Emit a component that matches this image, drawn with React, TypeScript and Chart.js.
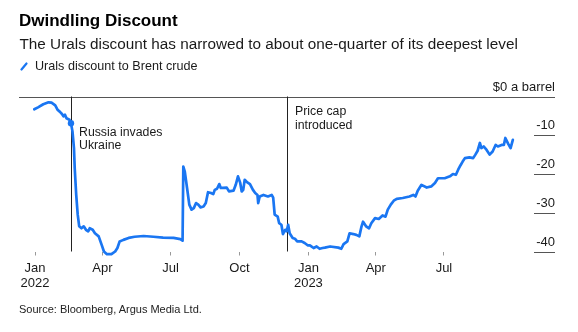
import { useEffect, useRef } from 'react';
import { Chart, registerables } from 'chart.js';

Chart.register(...registerables);

// ---- Data ----
const DATES = [
  '2021-12-31', '2022-01-05', '2022-01-12', '2022-01-19', '2022-01-23', '2022-01-28', '2022-01-31',
  '2022-02-03', '2022-02-06', '2022-02-08', '2022-02-10', '2022-02-12', '2022-02-16', '2022-02-18',
  '2022-02-20', '2022-02-22', '2022-02-23', '2022-02-25', '2022-02-27', '2022-03-01', '2022-03-04',
  '2022-03-07', '2022-03-10', '2022-03-13', '2022-03-15', '2022-03-19', '2022-03-22', '2022-03-27',
  '2022-03-31', '2022-04-03', '2022-04-07', '2022-04-13', '2022-04-18', '2022-04-21', '2022-04-24',
  '2022-04-29', '2022-05-06', '2022-05-14', '2022-05-26', '2022-06-08', '2022-06-21', '2022-07-05',
  '2022-07-14', '2022-07-17', '2022-07-18', '2022-07-20', '2022-07-23', '2022-07-26', '2022-07-29',
  '2022-08-01', '2022-08-04', '2022-08-07', '2022-08-10', '2022-08-14', '2022-08-17', '2022-08-20',
  '2022-08-24', '2022-08-27', '2022-08-29', '2022-09-01', '2022-09-04', '2022-09-06', '2022-09-09',
  '2022-09-14', '2022-09-17', '2022-09-23', '2022-09-26', '2022-09-29', '2022-10-02', '2022-10-04',
  '2022-10-06', '2022-10-08', '2022-10-11', '2022-10-15', '2022-10-19', '2022-10-22', '2022-10-25',
  '2022-10-26', '2022-10-28', '2022-11-02', '2022-11-08', '2022-11-13', '2022-11-15', '2022-11-17',
  '2022-11-21', '2022-11-23', '2022-11-26', '2022-11-28', '2022-12-01', '2022-12-03', '2022-12-05',
  '2022-12-07', '2022-12-11', '2022-12-14', '2022-12-17', '2022-12-23', '2022-12-27', '2022-12-31',
  '2023-01-03', '2023-01-08', '2023-01-12', '2023-01-16', '2023-01-20', '2023-01-23', '2023-01-30',
  '2023-02-10', '2023-02-14', '2023-02-17', '2023-02-22', '2023-02-25', '2023-03-02', '2023-03-06',
  '2023-03-10', '2023-03-13', '2023-03-15', '2023-03-19', '2023-03-23', '2023-03-26', '2023-03-31',
  '2023-04-05', '2023-04-10', '2023-04-14', '2023-04-17', '2023-04-21', '2023-04-25', '2023-04-29',
  '2023-05-07', '2023-05-16', '2023-05-21', '2023-05-24', '2023-05-27', '2023-06-01', '2023-06-08',
  '2023-06-14', '2023-06-19', '2023-06-23', '2023-07-02', '2023-07-09', '2023-07-13', '2023-07-17',
  '2023-07-20', '2023-07-23', '2023-07-26', '2023-07-29', '2023-08-04', '2023-08-09', '2023-08-12',
  '2023-08-15', '2023-08-18', '2023-08-20', '2023-08-23', '2023-08-27', '2023-08-31', '2023-09-04',
  '2023-09-08', '2023-09-11', '2023-09-16', '2023-09-19', '2023-09-21', '2023-09-25', '2023-09-28',
  '2023-10-01',
];

const DISCOUNT = [
  -3.3, -2.8, -2.0, -1.5, -1.6, -2.3, -3.4,
  -3.9, -4.5, -5.1, -4.7, -5.6, -6.0, -6.9,
  -9.0, -13.3, -18.5, -25.4, -30.5, -33.5, -34.0,
  -33.5, -34.4, -34.8, -34.0, -34.4, -35.3, -36.1,
  -38.3, -40.0, -40.7, -40.7, -40.0, -39.1, -37.4,
  -37.0, -36.5, -36.2, -36.0, -36.2, -36.4, -36.5,
  -36.8, -37.2, -18.1, -19.4, -23.6, -27.9, -29.2,
  -28.8, -27.5, -27.9, -28.6, -28.4, -27.5, -24.7,
  -24.9, -25.2, -24.1, -23.8, -22.6, -23.6, -23.6,
  -23.5, -24.5, -24.3, -22.8, -20.6, -22.3, -24.5,
  -24.1, -21.5, -22.1, -22.6, -24.1, -24.9, -25.4,
  -27.5, -25.8, -25.4, -25.8, -25.4, -26.1, -30.5,
  -31.0, -32.7, -33.1, -35.5, -34.4, -34.8, -33.1,
  -35.3, -36.5, -36.7, -37.4, -37.4, -37.8, -38.4,
  -38.4, -39.1, -38.7, -39.3, -39.1, -39.0, -38.7,
  -39.0, -39.3, -38.1, -37.4, -35.3, -35.5, -35.7,
  -36.1, -33.5, -32.3, -33.5, -34.0, -32.7, -31.4,
  -31.6, -30.7, -31.0, -29.2, -27.9, -26.9, -26.4,
  -26.2, -25.8, -25.4, -25.8, -24.3, -22.8, -23.5,
  -23.2, -22.3, -21.1, -21.1, -20.6, -20.0, -20.2,
  -18.9, -17.8, -16.8, -15.9, -15.7, -15.9, -15.0,
  -14.0, -12.0, -13.3, -12.9, -13.8, -15.0, -14.2,
  -12.5, -12.9, -12.5, -12.5, -10.7, -12.3, -13.3,
  -11.2,
];

const X_TICK_DATES = ['2022-01-01', '2022-04-01', '2022-07-01', '2022-10-01', '2023-01-01', '2023-04-01', '2023-07-01'];
const X_TICK_LABELS = [['Jan', '2022'], 'Apr', 'Jul', 'Oct', ['Jan', '2023'], 'Apr', 'Jul'];
const Y_TICKS = [0, -10, -20, -30, -40];
const Y_TICK_LABELS = ['$0 a barrel', '-10', '-20', '-30', '-40'];
const EVENT_DATES = ['2022-02-18', '2022-12-04'];
const EVENT_LABELS = [['Russia invades', 'Ukraine'], ['Price cap', 'introduced']];
const MARKER_DATE = '2022-02-18';

const SERIES_NAME = 'Urals discount to Brent crude';
const TITLE = 'Dwindling Discount';
const SUBTITLE = 'The Urals discount has narrowed to about one-quarter of its deepest level';
const SOURCE = 'Source: Bloomberg, Argus Media Ltd.';

// ---- helpers ----
const BASE = Date.UTC(2022, 0, 1);
function dayOf(s: string): number {
  const [y, m, d] = s.split('-').map(Number);
  return (Date.UTC(y, m - 1, d) - BASE) / 86400000;
}

const BLUE = '#1a76f2';
const FONT = '"Liberation Sans", Arial, Helvetica, sans-serif';
const TEXT = '#1a1a1a';

const overlayPlugin = {
  id: 'overlay',
  beforeDatasetsDraw(chart: any) {
    const { ctx, chartArea } = chart;
    const { left, right, top, bottom } = chartArea;
    const xs = chart.scales.x;
    const ys = chart.scales.y;
    ctx.save();
    // horizontal grid marks and value labels
    Y_TICKS.forEach((v, i) => {
      const y = Math.round(ys.getPixelForValue(v)) + 0.5;
      ctx.strokeStyle = '#555';
      ctx.lineWidth = 1;
      ctx.beginPath();
      ctx.moveTo(v === 0 ? left : right - 21, y);
      ctx.lineTo(right, y);
      ctx.stroke();
      ctx.fillStyle = TEXT;
      ctx.font = `13px ${FONT}`;
      ctx.textAlign = 'right';
      ctx.textBaseline = 'alphabetic';
      ctx.fillText(Y_TICK_LABELS[i], right, y - 7);
    });
    // event lines & notes
    const firstBaseline = [39, 18.5];
    EVENT_DATES.forEach((d, i) => {
      const x = Math.round(xs.getPixelForValue(dayOf(d))) + 0.5;
      ctx.strokeStyle = '#222';
      ctx.lineWidth = 1;
      ctx.beginPath();
      ctx.moveTo(x, top);
      ctx.lineTo(x, bottom);
      ctx.stroke();
      ctx.fillStyle = TEXT;
      ctx.font = `12.3px ${FONT}`;
      ctx.textAlign = 'left';
      ctx.textBaseline = 'alphabetic';
      EVENT_LABELS[i].forEach((line, j) => {
        ctx.fillText(line, x + 7.5, top + firstBaseline[i] + j * 13.5);
      });
    });
    ctx.restore();
  },
};

export default function App() {
  const ref = useRef<HTMLCanvasElement>(null);

  useEffect(() => {
    document.body.style.margin = '0';
    const canvas = ref.current;
    if (!canvas) return;
    const points = DATES.map((d, i) => ({ x: dayOf(d), y: DISCOUNT[i] }));
    const markerIndex = DATES.indexOf(MARKER_DATE);
    const tickValues = X_TICK_DATES.map(dayOf);

    const chart = new Chart(canvas, {
      type: 'line',
      data: {
        datasets: [
          {
            label: SERIES_NAME,
            data: points,
            borderColor: BLUE,
            backgroundColor: BLUE,
            borderWidth: 2.7,
            pointRadius: (c: any) => (c.dataIndex === markerIndex ? 3.2 : 0),
            pointBackgroundColor: BLUE,
            pointBorderWidth: 0,
            pointHoverRadius: 0,
            tension: 0,
            borderJoinStyle: 'round',
            borderCapStyle: 'round',
            clip: false,
          } as any,
        ],
      },
      options: {
        responsive: false,
        maintainAspectRatio: false,
        animation: false,
        devicePixelRatio: 1,
        events: [],
        layout: { padding: { left: 19, right: 23, top: 96.5, bottom: 40.5 } },
        plugins: { legend: { display: false }, tooltip: { enabled: false }, title: { display: false } },
        scales: {
          x: {
            type: 'linear',
            min: -21.4,
            max: 694.3,
            afterBuildTicks: (scale: any) => {
              scale.ticks = tickValues.map((v) => ({ value: v }));
            },
            afterFit: (scale: any) => {
              scale.height = 40;
            },
            grid: { display: true, drawOnChartArea: false, drawTicks: true, tickLength: 4, color: '#999', lineWidth: 1 },
            border: { display: false },
            ticks: {
              autoSkip: false,
              maxRotation: 0,
              minRotation: 0,
              padding: 5,
              color: TEXT,
              font: { family: FONT, size: 13, lineHeight: 1.2 },
              callback: (value: any) => {
                const idx = tickValues.indexOf(Number(value));
                return idx >= 0 ? X_TICK_LABELS[idx] : '';
              },
            },
          },
          y: {
            type: 'linear',
            display: false,
            min: -40,
            max: 0,
          },
        },
      },
      plugins: [overlayPlugin],
    });
    return () => chart.destroy();
  }, []);

  const abs = (top: number, extra: any = {}) => ({
    position: 'absolute' as const,
    left: 0,
    top,
    lineHeight: 1,
    fontFamily: FONT,
    color: TEXT,
    whiteSpace: 'nowrap' as const,
    ...extra,
  });

  return (
    <div style={{ position: 'fixed', left: 0, top: 0, width: 578, height: 332, background: '#fff', overflow: 'hidden' }}>
      <canvas ref={ref} width={578} height={332} style={{ position: 'absolute', left: 0, top: 0, width: 578, height: 332 }} />
      <div style={abs(12.3, { left: 19, fontSize: 17, fontWeight: 700, color: '#000' })}>{TITLE}</div>
      <div style={abs(35.7, { left: 19.5, fontSize: 15.3 })}>{SUBTITLE}</div>
      <svg
        width="8"
        height="9"
        viewBox="0 0 8 9"
        style={{ position: 'absolute', left: 20, top: 62, display: 'block' }}
      >
        <line x1="1.5" y1="7.5" x2="6.5" y2="1.5" stroke={BLUE} strokeWidth="2.2" strokeLinecap="round" />
      </svg>
      <div style={abs(59.8, { left: 35, fontSize: 12.6 })}>{SERIES_NAME}</div>
      <div style={abs(304, { left: 19, fontSize: 11, color: '#222' })}>{SOURCE}</div>
    </div>
  );
}
